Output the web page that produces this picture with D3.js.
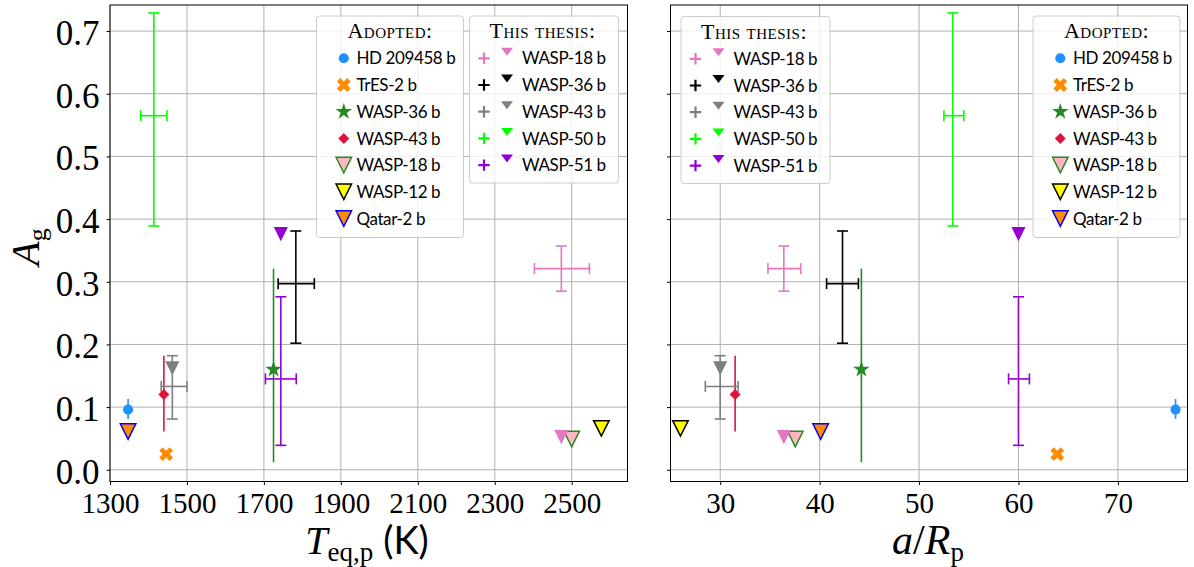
<!DOCTYPE html>
<html>
<head>
<meta charset="utf-8">
<script src="https://cdn.jsdelivr.net/npm/d3@7"></script>
<style>
  body { margin: 0; background: #fff; }
  svg { display: block; }
</style>
</head>
<body>
<div class="chart"></div>
<script>
// adopted values from the literature
var adoptedNames = ["HD 209458 b", "TrES-2 b", "WASP-36 b", "WASP-43 b", "WASP-18 b", "WASP-12 b", "Qatar-2 b"]
var adoptedTeq = [1347, 1446, 1725, 1440, 2500, 2577, 1347]
var adoptedAR = [75.8, 63.9, 44.2, 31.5, 37.55, 26.0, 40.1]
var adoptedAg = [0.096, 0.025, 0.16, 0.12, 0.049, 0.066, 0.061]
var adoptedAgLo = [0.015, 0, 0.148, 0.059, 0, 0, 0]
var adoptedAgHi = [0.017, 0, 0.161, 0.062, 0, 0, 0]

// this thesis
var thesisNames = ["WASP-18 b", "WASP-36 b", "WASP-43 b", "WASP-50 b", "WASP-51 b"]
var thesisTeq = [2473, 1783, 1462, 1414, 1744]
var thesisTeqLo = [70, 46, 29, 34, 40]
var thesisTeqHi = [73, 48, 38, 34, 40]
var thesisAR = [36.4, 42.3, 30.0, 53.4, 60.0]
var thesisARLo = [1.6, 1.6, 1.5, 0.9, 1.0]
var thesisARHi = [1.7, 1.6, 1.8, 1.1, 1.1]
var thesisAg = [0.321, 0.297, 0.133, 0.565, 0.145]
var thesisAgLo = [0.036, 0.095, 0.052, 0.176, 0.106]
var thesisAgHi = [0.036, 0.084, 0.049, 0.164, 0.131]
var thesisLimit = [0.052, null, 0.162, null, 0.376]

var teqTicks = [1300, 1500, 1700, 1900, 2100, 2300, 2500]
var arTicks = [30, 40, 50, 60, 70]
var agTicks = [0.0, 0.1, 0.2, 0.3, 0.4, 0.5, 0.6, 0.7]

var thesisColors = ["#e377c2", "#000000", "#7f7f7f", "#00ff00", "#9400d3"]
var adoptedStyle = [
    {shape: "circle", fill: "#1e90ff", stroke: "none"},
    {shape: "x", fill: "#ff8c00", stroke: "none"},
    {shape: "star", fill: "#228b22", stroke: "none"},
    {shape: "diamond", fill: "#dc143c", stroke: "none"},
    {shape: "tri", fill: "#ffb6c1", stroke: "#228b22"},
    {shape: "tri", fill: "#ffff00", stroke: "#000000"},
    {shape: "tri", fill: "#ff8c00", stroke: "#0000ff"}
]

var serif = "'Liberation Serif', serif"
var sans = "Lato, 'DejaVu Sans', sans-serif"

var triDown = {draw: function(ctx, size){
    var s = Math.sqrt(size) / 2
    ctx.moveTo(-s, -s); ctx.lineTo(s, -s); ctx.lineTo(0, s); ctx.closePath()
}}
var thinPlus = {draw: function(ctx, size){
    var s = Math.sqrt(size) / 2
    ctx.moveTo(-s, 0); ctx.lineTo(s, 0); ctx.moveTo(0, -s); ctx.lineTo(0, s)
}}

function markerPath(shape){
    if (shape == "circle") return d3.symbol().type(d3.symbolCircle).size(80)()
    if (shape == "x") return d3.symbol().type(d3.symbolCross).size(120)()
    if (shape == "star") return d3.symbol().type(d3.symbolStar).size(85)()
    if (shape == "diamond") return d3.symbol().type(d3.symbolSquare).size(60)()
    return d3.symbol().type(triDown).size(240)()
}
function markerRot(shape){ return (shape == "x" || shape == "diamond") ? 45 : 0 }

var svg = d3.select(".chart").append("svg")
    .attr("width", 1194).attr("height", 567)
    .style("font-family", serif)

var y = d3.scaleLinear().domain([-0.0187, 0.7416]).range([481.5, 5])

var panels = [
    {x: d3.scaleLinear().domain([1300, 2645]).range([110, 627.5]), ticks: teqTicks, key: "teq", labels: true},
    {x: d3.scaleLinear().domain([25, 77]).range([670.5, 1187.5]), ticks: arTicks, key: "ar", labels: false}
]

panels.forEach(function(p){
    var x = p.x
    var g = svg.append("g")
    var x0 = x.range()[0], x1 = x.range()[1]

    // grid
    g.selectAll(".gx").data(p.ticks).enter().append("line")
        .attr("x1", function(d){return x(d)}).attr("x2", function(d){return x(d)})
        .attr("y1", y.range()[1]).attr("y2", y.range()[0])
        .attr("stroke", "#b0b0b0").attr("stroke-width", 1)
    g.selectAll(".gy").data(agTicks).enter().append("line")
        .attr("x1", x0).attr("x2", x1)
        .attr("y1", function(d){return y(d)}).attr("y2", function(d){return y(d)})
        .attr("stroke", "#b0b0b0").attr("stroke-width", 1)

    // axes
    var xAxis = d3.axisBottom(x).tickValues(p.ticks).tickSize(3.5).tickFormat(d3.format("d"))
    var gx = g.append("g").attr("transform", "translate(0," + y.range()[0] + ")").call(xAxis)
    gx.select(".domain").remove()
    gx.selectAll("text").style("font-family", serif).style("font-size", "29px")
        .attr("fill", "#000").attr("y", 31).attr("dy", 0)

    var yAxis = d3.axisLeft(y).tickValues(agTicks).tickSize(3.5).tickPadding(7)
        .tickFormat(p.labels ? d3.format(".1f") : "")
    var gy = g.append("g").attr("transform", "translate(" + x0 + ",0)").call(yAxis)
    gy.select(".domain").remove()
    gy.selectAll("text").style("font-family", serif).style("font-size", "35px")
        .attr("fill", "#000").attr("dy", "0.38em")

    var px = p.key == "teq" ? adoptedTeq : adoptedAR

    // adopted error bars
    adoptedNames.forEach(function(n, i){
        if (adoptedAgLo[i] > 0) {
            g.append("line")
                .attr("x1", x(px[i])).attr("x2", x(px[i]))
                .attr("y1", y(adoptedAg[i] - adoptedAgLo[i])).attr("y2", y(adoptedAg[i] + adoptedAgHi[i]))
                .attr("stroke", adoptedStyle[i].fill).attr("stroke-width", 1.6)
        }
    })
    // adopted markers
    g.selectAll(".adopted").data(adoptedNames).enter().append("path")
        .attr("d", function(d, i){return markerPath(adoptedStyle[i].shape)})
        .attr("transform", function(d, i){
            return "translate(" + x(px[i]) + "," + y(adoptedAg[i]) + ") rotate(" + markerRot(adoptedStyle[i].shape) + ")"})
        .attr("fill", function(d, i){return adoptedStyle[i].fill})
        .attr("stroke", function(d, i){return adoptedStyle[i].stroke})
        .attr("stroke-width", 1.5)

    // thesis crosses
    var tx = p.key == "teq" ? thesisTeq : thesisAR
    var txLo = p.key == "teq" ? thesisTeqLo : thesisARLo
    var txHi = p.key == "teq" ? thesisTeqHi : thesisARHi
    var cap = 5.5
    thesisNames.forEach(function(n, i){
        var c = thesisColors[i]
        var cx = x(tx[i]), cy = y(thesisAg[i])
        var xl = x(tx[i] - txLo[i]), xr = x(tx[i] + txHi[i])
        var yt = y(thesisAg[i] + thesisAgHi[i]), yb = y(thesisAg[i] - thesisAgLo[i])
        var eg = g.append("g").attr("stroke", c).attr("stroke-width", 1.6).attr("fill", "none")
        eg.append("line").attr("x1", xl).attr("x2", xr).attr("y1", cy).attr("y2", cy)
        eg.append("line").attr("x1", cx).attr("x2", cx).attr("y1", yt).attr("y2", yb)
        eg.append("line").attr("x1", xl).attr("x2", xl).attr("y1", cy - cap).attr("y2", cy + cap)
        eg.append("line").attr("x1", xr).attr("x2", xr).attr("y1", cy - cap).attr("y2", cy + cap)
        eg.append("line").attr("x1", cx - cap).attr("x2", cx + cap).attr("y1", yt).attr("y2", yt)
        eg.append("line").attr("x1", cx - cap).attr("x2", cx + cap).attr("y1", yb).attr("y2", yb)
        if (thesisLimit[i] != null) {
            g.append("path").attr("d", d3.symbol().type(triDown).size(200)())
                .attr("transform", "translate(" + cx + "," + y(thesisLimit[i]) + ")")
                .attr("fill", c)
        }
    })

    // frame
    g.append("rect").attr("x", x0).attr("y", y.range()[1])
        .attr("width", x1 - x0).attr("height", y.range()[0] - y.range()[1])
        .attr("fill", "none").attr("stroke", "#000").attr("stroke-width", 1)
})

// legends
function legendAdopted(lx, ly){
    var g = svg.append("g").attr("transform", "translate(" + lx + "," + ly + ")")
    g.append("rect").attr("width", 147).attr("height", 221.5).attr("rx", 3)
        .attr("fill", "#fff").attr("fill-opacity", 0.8).attr("stroke", "#cccccc")
    g.append("text").attr("x", 73.5).attr("y", 22).attr("text-anchor", "middle")
        .style("font-family", serif).style("font-size", "22px").style("font-variant", "small-caps")
        .style("letter-spacing", "0.5px").text("Adopted:")
    adoptedNames.forEach(function(n, i){
        var ey = 42.3 + i * 26.7
        g.append("path").attr("d", markerPath(adoptedStyle[i].shape))
            .attr("transform", "translate(27.3," + ey + ") rotate(" + markerRot(adoptedStyle[i].shape) + ")")
            .attr("fill", adoptedStyle[i].fill).attr("stroke", adoptedStyle[i].stroke).attr("stroke-width", 1.5)
        g.append("text").attr("x", 40).attr("y", ey).attr("dy", "0.36em")
            .style("font-family", sans).style("font-size", "17px").style("letter-spacing", "-0.4px").text(n)
    })
}
function legendThesis(lx, ly){
    var g = svg.append("g").attr("transform", "translate(" + lx + "," + ly + ")")
    g.append("rect").attr("width", 149).attr("height", 167).attr("rx", 3)
        .attr("fill", "#fff").attr("fill-opacity", 0.8).attr("stroke", "#cccccc")
    g.append("text").attr("x", 73).attr("y", 22).attr("text-anchor", "middle")
        .style("font-family", serif).style("font-size", "22px").style("font-variant", "small-caps")
        .style("letter-spacing", "0.5px").text("This thesis:")
    thesisNames.forEach(function(n, i){
        var ey = 42.3 + i * 26.7
        g.append("path").attr("d", d3.symbol().type(thinPlus).size(130)())
            .attr("transform", "translate(14.5," + ey + ")")
            .attr("stroke", thesisColors[i]).attr("stroke-width", 2.2).attr("fill", "none")
        g.append("path").attr("d", "M-6,-4L6,-4L0,4Z")
            .attr("transform", "translate(37.5," + (ey - 6.5) + ")")
            .attr("fill", thesisColors[i])
        g.append("text").attr("x", 52.5).attr("y", ey).attr("dy", "0.36em")
            .style("font-family", sans).style("font-size", "17px").style("letter-spacing", "-0.4px").text(n)
    })
}
legendAdopted(316.5, 16)
legendThesis(469.5, 16)
legendThesis(681, 16.5)
legendAdopted(1033, 16)

// axis labels
var yl = svg.append("text").attr("transform", "translate(39,247) rotate(-90)")
    .attr("text-anchor", "middle").style("font-family", serif)
yl.append("tspan").style("font-style", "italic").style("font-size", "40px").text("A")
yl.append("tspan").style("font-size", "26px").attr("dy", 7).text("g")

var xl = svg.append("text").attr("x", 367).attr("y", 554)
    .attr("text-anchor", "middle").style("font-family", serif)
xl.append("tspan").style("font-style", "italic").style("font-size", "40px").text("T")
xl.append("tspan").style("font-size", "27px").attr("dy", 7).text("eq,p")
xl.append("tspan").style("font-size", "40px").attr("dy", -7).text(" ")
xl.append("tspan").style("font-family", sans).style("font-size", "38px").text("(K)")

var xr = svg.append("text").attr("x", 928).attr("y", 554)
    .attr("text-anchor", "middle").style("font-family", serif)
xr.append("tspan").style("font-style", "italic").style("font-size", "42px").text("a")
xr.append("tspan").style("font-size", "42px").text("/")
xr.append("tspan").style("font-style", "italic").style("font-size", "42px").text("R")
xr.append("tspan").style("font-size", "27px").attr("dy", 7).text("p")
</script>
</body>
</html>
